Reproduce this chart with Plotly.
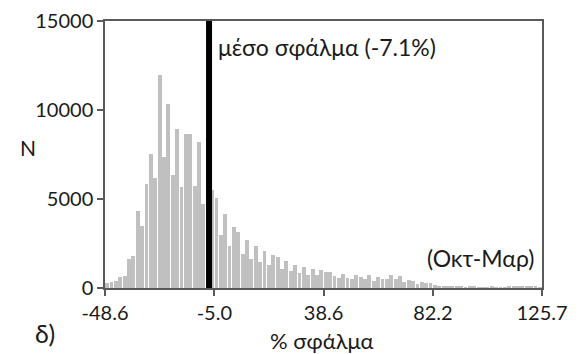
import plotly.graph_objects as go

# histogram of % error, 100 bins between -48.6 and 125.7
x_min = -48.6
x_max = 125.7
counts = [
    280, 340, 400, 620, 680, 1610, 1780, 4330, 3480, 5820,
    7510, 6180, 11950, 7360, 10320, 6370, 8950, 5660, 8670, 8670,
    5730, 8220, 4700, 6310, 5500, 5050, 3000, 4170, 2380, 3410,
    3130, 1910, 2710, 1650, 2380, 1460, 2100, 1310, 1840, 1740,
    1090, 1500, 955, 1310, 840, 1180, 750, 1090, 750, 1030,
    900, 900, 700, 580, 800, 560, 520, 710, 620, 490,
    710, 390, 620, 520, 490, 710, 490, 670, 340, 430,
    370, 200, 340, 300, 300, 150, 110, 80, 70, 60,
    70, 60, 50, 60, 70, 50, 40, 50, 60, 50,
    40, 50, 60, 70, 110, 130, 80, 60, 60, 50,
]
mean_error = -7.1
x_tickvals = [-48.6, -5.0, 38.6, 82.2, 125.7]
x_ticktext = ["-48.6", "-5.0", "38.6", "82.2", "125.7"]
y_tickvals = [0, 5000, 10000, 15000]
y_ticktext = ["0", "5000", "10000", "15000"]

n_bins = len(counts)
bin_w = (x_max - x_min) / n_bins
centers = [x_min + bin_w * (i + 0.5) for i in range(n_bins)]

FONT = "Lato"
TXT = "#1a1a1a"
AX = "#5a5a5a"

fig = go.Figure()
fig.add_trace(go.Bar(x=centers, y=counts, width=bin_w * 0.88,
                     marker=dict(color="#c0c0c0", line=dict(width=0)),
                     hoverinfo="skip"))

fig.add_shape(type="line", xref="x", yref="y", x0=mean_error, x1=mean_error,
              y0=0, y1=15000, line=dict(color="black", width=6))

fig.add_annotation(x=mean_error, y=13550, xref="x", yref="y", xanchor="left",
                   yanchor="middle", xshift=7, text="μέσο σφάλμα (-7.1%)",
                   showarrow=False, font=dict(family=FONT, size=23, color=TXT))
fig.add_annotation(x=1, y=1700, xref="paper", yref="y", xanchor="right",
                   yanchor="middle", xshift=-6, text="(Οκτ-Μαρ)", showarrow=False,
                   font=dict(family=FONT, size=23, color=TXT))
fig.add_annotation(x=-0.176, y=0.528, xref="paper", yref="paper", text="N",
                   xanchor="center", yanchor="middle", showarrow=False,
                   font=dict(family=FONT, size=21, color=TXT))
fig.add_annotation(x=0.497, y=-0.195, xref="paper", yref="paper", text="% σφάλμα",
                   xanchor="center", yanchor="middle", showarrow=False,
                   font=dict(family=FONT, size=22, color=TXT))
fig.add_annotation(x=-0.137, y=-0.169, xref="paper", yref="paper", text="δ)",
                   xanchor="center", yanchor="middle", showarrow=False,
                   font=dict(family=FONT, size=25, color=TXT))

fig.update_layout(
    width=584, height=354,
    margin=dict(l=105, r=42, t=21, b=66, autoexpand=False),
    paper_bgcolor="white", plot_bgcolor="white",
    showlegend=False, bargap=0,
    font=dict(family=FONT, size=20, color=TXT),
)
fig.update_xaxes(range=[x_min, x_max], tickvals=x_tickvals, ticktext=x_ticktext,
                 ticks="outside", ticklen=6, tickcolor=AX, tickwidth=1.5,
                 showline=True, linecolor=AX, linewidth=1.5, mirror=True,
                 showgrid=False, zeroline=False, automargin=False,
                 tickfont=dict(family=FONT, size=20, color=TXT))
fig.update_yaxes(range=[0, 15000], tickvals=y_tickvals, ticktext=y_ticktext,
                 ticks="outside", ticklen=6, tickcolor=AX, tickwidth=1.5,
                 showline=True, linecolor=AX, linewidth=1.5, mirror=True,
                 showgrid=False, zeroline=False, automargin=False,
                 tickfont=dict(family=FONT, size=20, color=TXT))

fig.write_html("out.html", config={"displayModeBar": False},
               post_script="document.body.style.margin='0px';"
                           "document.body.style.overflow='hidden';")
